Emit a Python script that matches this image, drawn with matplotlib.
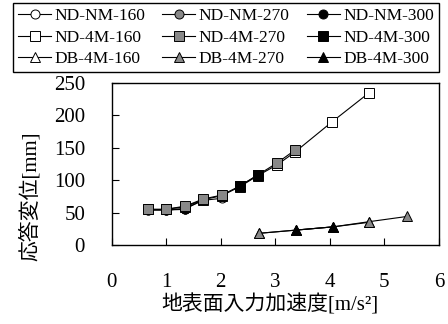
import matplotlib
matplotlib.use("Agg")
import matplotlib.pyplot as plt
from matplotlib.lines import Line2D

plt.rcParams['font.family'] = ['Liberation Serif', 'Noto Sans CJK JP', 'DejaVu Sans']

# Response displacement [mm] vs. ground-surface input acceleration [m/s^2]
nm160_x = [0.66, 0.99, 1.35, 1.68, 2.02]
nm160_y = [54, 54, 56, 69, 72]
nm270_x = [0.66, 0.99, 1.35, 1.68]
nm270_y = [54, 54, 56, 70]
nm300_x = [0.99, 1.35]
nm300_y = [54, 55]

m4160_x = [0.66, 0.99, 1.35, 1.68, 2.02, 2.35, 2.68, 3.04, 3.37, 4.04, 4.72]
m4160_y = [55, 55, 59, 70, 76, 90, 107, 124, 144, 190, 235]
m4270_x = [0.66, 0.99, 1.35, 1.68, 2.02, 2.35, 2.68, 3.04, 3.37]
m4270_y = [55, 55, 60, 71, 77, 91, 108, 127, 147]
m4300_x = [2.35, 2.68]
m4300_y = [91, 108]

db160_x = [2.70, 3.38, 4.06, 4.72]
db160_y = [18, 23, 28, 35]
db270_x = [2.70, 3.38, 4.06, 4.72, 5.41]
db270_y = [18, 23, 28, 36, 44]
db300_x = [3.38, 4.06]
db300_y = [23, 28]

labels = ['ND-NM-160', 'ND-NM-270', 'ND-NM-300',
          'ND-4M-160', 'ND-4M-270', 'ND-4M-300',
          'DB-4M-160', 'DB-4M-270', 'DB-4M-300']

xticks = [0, 1, 2, 3, 4, 5, 6]
yticks = [0, 50, 100, 150, 200, 250]

GRAY = '#888888'
series = [
    (nm160_x, nm160_y, 'o', 'white'),
    (nm270_x, nm270_y, 'o', GRAY),
    (nm300_x, nm300_y, 'o', 'black'),
    (m4160_x, m4160_y, 's', 'white'),
    (m4270_x, m4270_y, 's', GRAY),
    (m4300_x, m4300_y, 's', 'black'),
    (db160_x, db160_y, '^', 'white'),
    (db270_x, db270_y, '^', GRAY),
    (db300_x, db300_y, '^', 'black'),
]

fig = plt.figure(figsize=(4.48, 3.24), dpi=100)
ax = fig.add_axes([111.5 / 448, 1 - 245 / 324, (439 - 111.5) / 448, (245 - 83) / 324])

handles = []
for (xs, ys, mk, fc), lab in zip(series, labels):
    h, = ax.plot(xs, ys, color='black', lw=0.8, marker=mk, markersize=6.5,
                 markerfacecolor=fc, markeredgecolor='black', markeredgewidth=0.7,
                 label=lab)
    handles.append(h)

ax.set_xlim(0, 6)
ax.set_ylim(0, 250)
ax.set_xticks(xticks)
ax.set_yticks(yticks)
ax.tick_params(axis='both', direction='in', length=5, width=0.8, labelsize=15)
ax.tick_params(axis='x', pad=20)
ax.tick_params(axis='y', pad=19)
for s in ax.spines.values():
    s.set_linewidth(1.0)

fig.text(30 / 448, 1 - 196 / 324, '応答変位[mm]', rotation=90, ha='center', va='center', fontsize=15)
fig.text(270 / 448, 1 - 305 / 324, '地表面入力加速度[m/s²]', ha='center', va='center', fontsize=15)

# legend laid out row by row: reorder for column-major filling
order = [0, 3, 6, 1, 4, 7, 2, 5, 8]
leg = fig.legend([handles[i] for i in order], [labels[i] for i in order],
                 ncol=3, loc='upper left', bbox_to_anchor=(13 / 448, 1 - 3 / 324, (439 - 13) / 448, 0),
                 mode='expand', fontsize=12.5, frameon=True, fancybox=False,
                 edgecolor='black', framealpha=1, handlelength=1.9, handletextpad=0.2,
                 labelspacing=0.3, borderpad=0.3, borderaxespad=0, columnspacing=0.6)
leg.get_frame().set_linewidth(1.0)

fig.savefig('out.png', dpi=100)
